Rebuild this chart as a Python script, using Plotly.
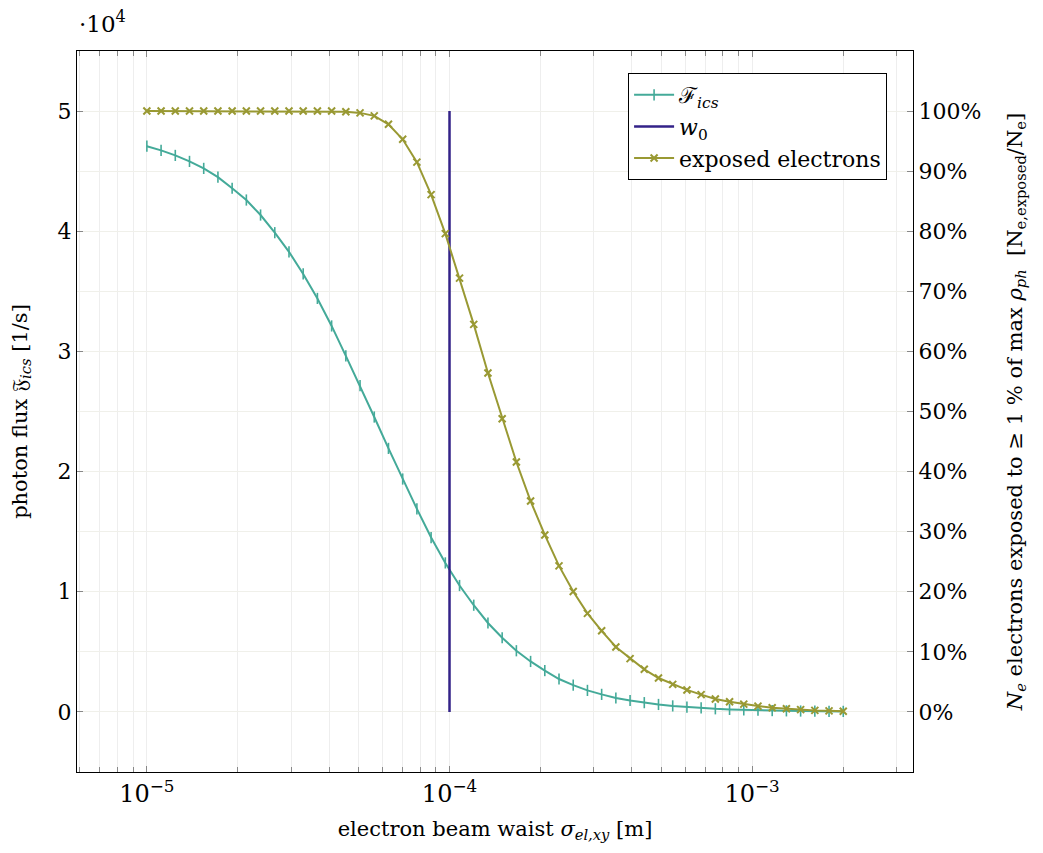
import numpy as np
import plotly.graph_objects as go

# electron beam waist sigma (m): 50 log-spaced samples from 1e-5 to 2e-3
sigma = np.logspace(-5, np.log10(2e-3), 50)

# photon flux F_ics [1/s]
flux = [47080, 46730, 46310, 45810, 45230, 44500, 43580, 42600, 41350, 39880,
        38290, 36450, 34410, 32120, 29630, 27150, 24540, 21930, 19380, 16900,
        14510, 12400, 10520, 8880, 7400, 6170, 5090, 4200, 3440, 2740,
        2230, 1790, 1460, 1160, 950, 770, 620, 500, 400, 330,
        260, 210, 170, 140, 110, 90, 75, 62, 52, 45]

# exposed electrons [%]
exposed = [100, 100, 100, 100, 100, 100, 100, 100, 100, 100,
           100, 100, 100, 100, 99.9, 99.7, 99.2, 97.8, 95.3, 91.5,
           86.1, 79.6, 72.2, 64.5, 56.4, 48.8, 41.6, 35.1, 29.45, 24.3,
           20.05, 16.4, 13.5, 10.8, 8.87, 7.09, 5.64, 4.59, 3.66, 2.88,
           2.15, 1.70, 1.30, 0.97, 0.70, 0.52, 0.38, 0.25, 0.18, 0.12]

w0 = 1e-4
w0_span = [0, 50000]

left_ticks = [0, 10000, 20000, 30000, 40000, 50000]
left_labels = ["0", "1", "2", "3", "4", "5"]
right_ticks = list(range(0, 101, 10))
right_labels = [f"{v}%" for v in right_ticks]
x_ticks = [1e-5, 1e-4, 1e-3]
x_labels = ["10<sup>−5</sup>", "10<sup>−4</sup>", "10<sup>−3</sup>"]

TEAL = "#44AA99"
INDIGO = "#332288"
OLIVE = "#999933"
FONT = "DejaVu Serif"

minor_x = [m * 10.0 ** e for e in range(-6, -2) for m in range(2, 10)]

fig = go.Figure()
fig.add_trace(go.Scatter(
    x=sigma, y=flux, mode="lines+markers", name="ℱ<sub><i>ics</i></sub>",
    line=dict(color=TEAL, width=2),
    marker=dict(symbol="line-ns", size=8, line=dict(color=TEAL, width=1.6)),
    yaxis="y"))
fig.add_trace(go.Scatter(
    x=[w0, w0], y=w0_span, mode="lines", name="<i>w</i><sub>0</sub>",
    line=dict(color=INDIGO, width=2.5), yaxis="y"))
fig.add_trace(go.Scatter(
    x=sigma, y=exposed, mode="lines+markers", name="exposed electrons",
    line=dict(color=OLIVE, width=2),
    marker=dict(symbol="x-thin", size=7, line=dict(color=OLIVE, width=2)),
    yaxis="y2"))

grid_col = "#eeeeee"
fig.update_layout(
    width=1043, height=853,
    margin=dict(l=77, r=130, t=51, b=81),
    paper_bgcolor="white", plot_bgcolor="white",
    font=dict(family=FONT, size=22, color="black"),
    showlegend=True,
    legend=dict(x=0.969, y=0.9695, xanchor="right", yanchor="top",
                bordercolor="black", borderwidth=1, bgcolor="white",
                font=dict(family=FONT, size=22), tracegroupgap=0,
                itemwidth=40),
    xaxis=dict(
        type="log", range=[np.log10(6e-6) - 0.009, np.log10(3.4e-3)],
        tickvals=x_ticks, ticktext=x_labels, ticks="inside", ticklen=6,
        tickcolor="#888888", showline=True, linecolor="black", linewidth=1,
        mirror="ticks", showgrid=True, gridcolor=grid_col, zeroline=False,
        tickfont=dict(size=24),
        minor=dict(tickvals=minor_x, ticks="inside", ticklen=5,
                   tickcolor="#888888", showgrid=True, gridcolor=grid_col),
        title=dict(text="electron beam waist <i>σ<sub>el,xy</sub></i> [m]",
                   font=dict(size=21), standoff=14),
    ),
    yaxis=dict(
        range=[-5000, 55000], tickvals=left_ticks, ticktext=left_labels,
        ticks="inside", ticklen=6, tickcolor="#888888",
        showline=True, linecolor="black", linewidth=1,
        showgrid=True, gridcolor="#f0f0ea", zeroline=False,
        tickfont=dict(size=22),
        minor=dict(dtick=5000, tick0=0, showgrid=True, gridcolor="#f0f0ea",
                   ticks=""),
        title=dict(text="photon flux 𝔉<sub><i>ics</i></sub> [1/s]",
                   font=dict(size=21), standoff=24),
    ),
    yaxis2=dict(
        overlaying="y", side="right", range=[-10, 110],
        tickvals=right_ticks, ticktext=right_labels,
        ticks="inside", ticklen=6, tickcolor="#888888",
        showline=True, linecolor="black", linewidth=1,
        showgrid=False, zeroline=False, tickfont=dict(size=22),
        title=dict(text="<i>N<sub>e</sub></i> electrons exposed to ≥ 1 % of max <i>ρ<sub>ph</sub></i>  "
                        "[N<sub>e,exposed</sub>/N<sub>e</sub>]",
                   font=dict(size=21), standoff=26),
    ),
)

fig.add_annotation(text="·10<sup>4</sup>", xref="paper", yref="paper",
                   x=0.0, y=1.0, xanchor="left", yanchor="bottom", yshift=12,
                   showarrow=False, font=dict(family=FONT, size=23))

fig.write_html("out.html")
